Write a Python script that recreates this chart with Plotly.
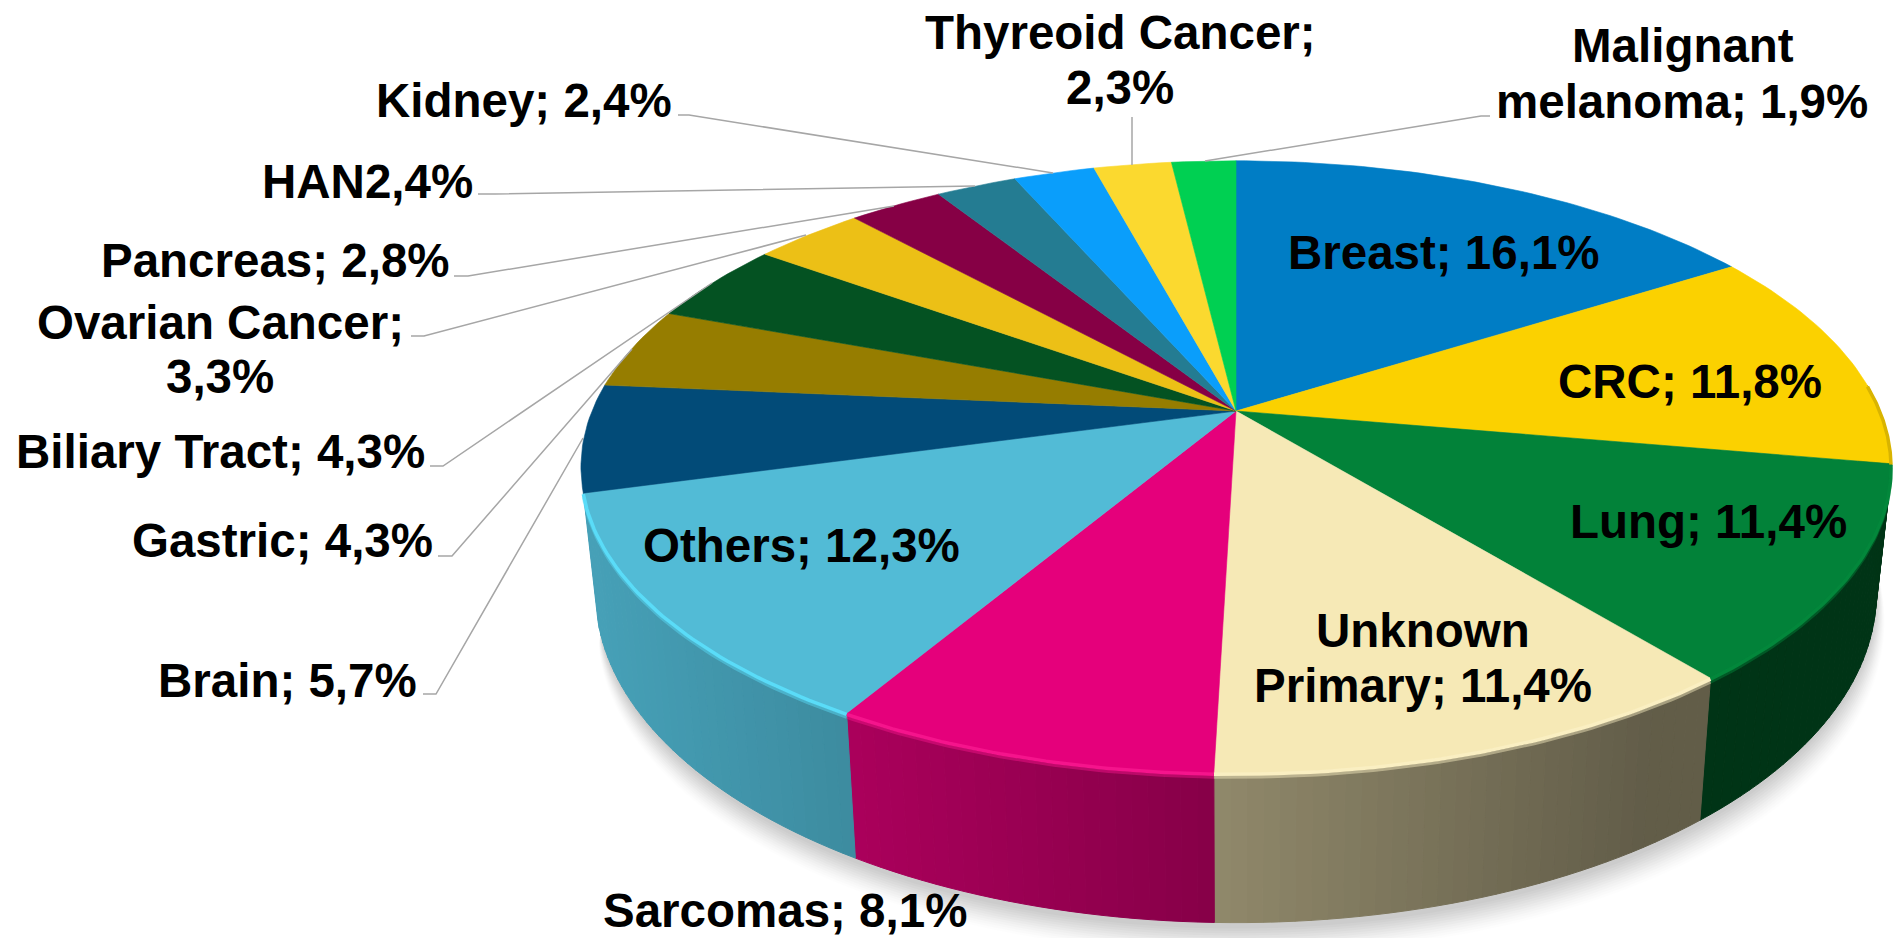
import numpy as np
import plotly.graph_objects as go

# ---------- data ----------
CATEGORIES = ["Breast", "CRC", "Lung", "Unknown Primary", "Sarcomas", "Others", "Brain", "Gastric",
              "Biliary Tract", "Ovarian Cancer", "Pancreas", "HAN", "Kidney", "Thyreoid Cancer",
              "Malignant melanoma"]
VALUES = [16.1, 11.8, 11.4, 11.4, 8.1, 12.3, 5.7, 4.3, 4.3, 3.3, 2.8, 2.4, 2.4, 2.3, 1.9]
COLORS = ["#007DC5", "#FBD100", "#028239", "#F6E9B6", "#E5007B", "#52BBD6", "#024B78", "#967D00",
          "#045222", "#ECC016", "#860045", "#247C92", "#0A9EFB", "#FBD92F", "#00D052"]
RIM_COLORS = [None, "#D9B400", "#03873B", "#FAEFC2", "#F5148C", "#5ADCF8", None, None,
              None, None, None, None, None, None, None]

# label text lines and their layout: (text, x, y, anchor)
LABELS = [
    ("Breast; 16,1%", 1444, 252, "center"),
    ("CRC; 11,8%", 1690, 381, "center"),
    ("Lung; 11,4%", 1708, 521, "center"),
    ("Unknown", 1423, 630, "center"),
    ("Primary; 11,4%", 1423, 685, "center"),
    ("Sarcomas; 8,1%", 785, 910, "center"),
    ("Others; 12,3%", 801, 545, "center"),
    ("Brain; 5,7%", 419, 680, "right"),
    ("Gastric; 4,3%", 435, 540, "right"),
    ("Biliary Tract; 4,3%", 427, 451, "right"),
    ("Ovarian Cancer;", 220, 322, "center"),
    ("3,3%", 220, 376, "center"),
    ("Pancreas; 2,8%", 452, 260, "right"),
    ("HAN2,4%", 475, 181, "right"),
    ("Kidney; 2,4%", 674, 100, "right"),
    ("Thyreoid Cancer;", 1120, 32, "center"),
    ("2,3%", 1120, 87, "center"),
    ("Malignant", 1683, 45, "center"),
    ("melanoma; 1,9%", 1682, 101, "center"),
]

# leader lines drawn on the page
LEADERS = [
    ([678, 689, 1053], [115, 115, 173]),
    ([478, 495, 975], [194, 194, 186]),
    ([454, 468, 894], [276, 276, 206]),
    ([411, 424, 806], [336, 336, 235]),
    ([430, 443, 712], [466, 466, 283]),
    ([438, 452, 632], [556, 556, 349]),
    ([423, 436, 583], [694, 694, 438]),
    ([1132, 1132], [117, 165]),
    ([1490, 1481, 1205], [116, 116, 161]),
]

# ---------- projection of the pie ----------
CX, CY = 1236.0, 411.0
A, B, K = 644.0, 296.0, 0.183     # perspective ellipse
DEPTH = 122.0
TAPER = 0.0225


def top_xy(theta):
    u, v = np.sin(theta), np.cos(theta)
    w = 1 + K * v
    return CX + A * u / w, CY - B * v / w


def bottom_xy(theta):
    x, y = top_xy(theta)
    w = 1 + K * np.cos(theta)
    d = DEPTH / w
    return x + (CX - x) * TAPER, y + d


def shade(color, f):
    r, g, b = int(color[1:3], 16), int(color[3:5], 16), int(color[5:7], 16)
    return f"rgb({int(r * f)},{int(g * f)},{int(b * f)})"


def side_factor(x):
    return float(np.clip(0.86 - (x - 585.0) / (1650.0 - 585.0) * 0.46, 0.40, 0.86))


fractions = np.array(VALUES) / sum(VALUES)
edges = np.concatenate([[0.0], np.cumsum(fractions)]) * 2 * np.pi

fig = go.Figure()

# soft shadow under the pie: fades to nothing at both ends of the wall
t0, t1 = np.radians(95), edges[6] - np.radians(2)
full = np.linspace(t0, t1, 180)
bx, by = bottom_xy(full)
grow = np.sin(np.pi * (full - t0) / (t1 - t0)) ** 0.5
for spread, alpha in zip(np.linspace(1.0, 0.0, 12),
                         [0.008, 0.01, 0.012, 0.014, 0.016, 0.018, 0.02, 0.02, 0.02, 0.02, 0.02, 0.02]):
    sx = bx + (bx - CX) * 0.035 * spread * grow
    sy = by + (6 + 26 * spread) * grow
    fig.add_trace(go.Scatter(x=sx, y=sy, mode="none", fill="toself",
                             fillcolor=f"rgba(0,0,0,{alpha})", hoverinfo="skip", showlegend=False))

# side wall, as narrow strips along each wedge (ends where the Others wedge ends)
SIDE_FROM, SIDE_TO = np.radians(85), edges[6]
for i, color in enumerate(COLORS):
    lo, hi = max(edges[i], SIDE_FROM), min(edges[i + 1], SIDE_TO)
    if hi <= lo:
        continue
    n = max(3, int((hi - lo) / np.radians(1.2)))
    ts = np.linspace(lo, hi, n + 1)
    for a, b in zip(ts[:-1], ts[1:]):
        tx, ty = top_xy(np.array([a, b]))
        ux, uy = bottom_xy(np.array([b, a]))
        c = shade(color, side_factor(0.5 * (tx[0] + tx[1])))
        fig.add_trace(go.Scatter(x=list(tx) + list(ux) + [tx[0]], y=list(ty) + list(uy) + [ty[0]],
                                 mode="lines", line=dict(color=c, width=1), fill="toself", fillcolor=c,
                                 hoverinfo="skip", showlegend=False))

# top face wedges
for i, color in enumerate(COLORS):
    ts = np.linspace(edges[i], edges[i + 1], max(6, int((edges[i + 1] - edges[i]) / np.radians(1))))
    x, y = top_xy(ts)
    fig.add_trace(go.Scatter(x=np.r_[CX, x, CX], y=np.r_[CY, y, CY], mode="lines",
                             line=dict(color=color, width=0.6), fill="toself", fillcolor=color,
                             hoverinfo="skip", showlegend=False))

# bevel highlight on the front rim
for i, color in enumerate(RIM_COLORS):
    if color is None:
        continue
    lo, hi = max(edges[i], SIDE_FROM), min(edges[i + 1], SIDE_TO)
    ts = np.linspace(lo, hi, 50)
    x, y = top_xy(ts)
    if i >= 2:
        fig.add_trace(go.Scatter(x=x, y=y + 4, mode="lines", line=dict(color=color, width=3), opacity=0.45,
                                 hoverinfo="skip", showlegend=False))
    fig.add_trace(go.Scatter(x=x, y=y + 1, mode="lines", line=dict(color=color, width=3.5),
                             hoverinfo="skip", showlegend=False))

# leader lines
for lx, ly in LEADERS:
    fig.add_trace(go.Scatter(x=lx, y=ly, mode="lines", line=dict(color="#A6A6A6", width=1.5),
                             hoverinfo="skip", showlegend=False))

for text, x, y, anchor in LABELS:
    fig.add_annotation(x=x, y=y, text=f"<b>{text}</b>", showarrow=False, xanchor=anchor, yanchor="middle",
                       font=dict(family="Liberation Sans, Arial, sans-serif", size=47.5, color="#000000"))

fig.update_layout(
    width=1895, height=938, margin=dict(l=0, r=0, t=0, b=0),
    paper_bgcolor="#FFFFFF", plot_bgcolor="#FFFFFF", showlegend=False,
    xaxis=dict(range=[0, 1895], visible=False, fixedrange=True),
    yaxis=dict(range=[938, 0], visible=False, fixedrange=True),
)
fig.write_html("out.html", post_script="document.body.style.margin='0';",
               config={"displayModeBar": False})
